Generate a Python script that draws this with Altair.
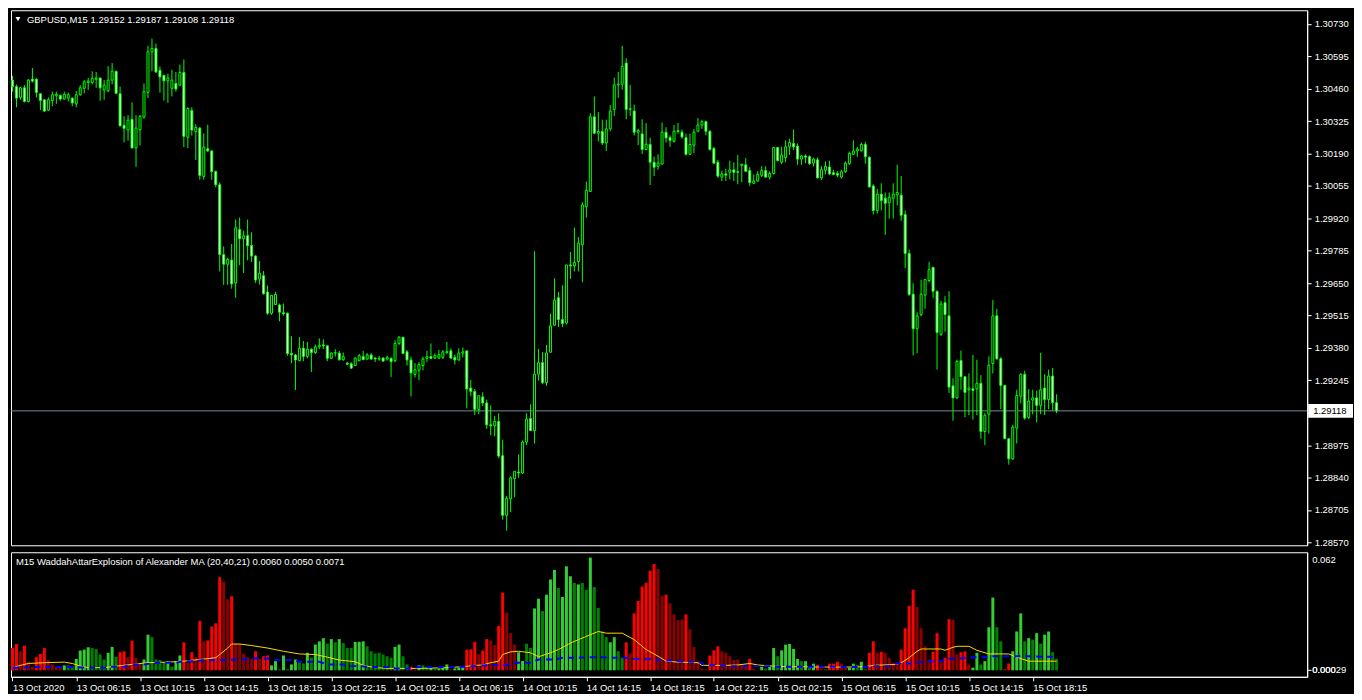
import json
import altair as alt
import pandas as pd

# ---------------- data (GBPUSD M15, 13-15 Oct 2020) ----------------
opens = [
    1.30496,1.30469,1.30424,1.30464,1.30407,1.30500,1.30500,1.30439,1.30414,1.30371,
    1.30411,1.30431,1.30432,1.30417,1.30421,1.30421,1.30397,1.30435,1.30462,1.30486,
    1.30486,1.30499,1.30505,1.30455,1.30452,1.30496,1.30533,1.30439,1.30308,1.30289,
    1.30333,1.30213,1.30289,1.30342,1.30445,1.30614,1.30628,1.30537,1.30516,1.30493,
    1.30462,1.30482,1.30475,1.30528,1.30258,1.30369,1.30282,1.30296,1.30095,1.30210,
    1.30201,1.30115,1.30060,1.29769,1.29729,1.29746,1.29651,1.29874,1.29835,1.29848,
    1.29807,1.29763,1.29667,1.29681,1.29613,1.29525,1.29561,1.29559,1.29527,1.29525,
    1.29357,1.29351,1.29327,1.29379,1.29345,1.29375,1.29361,1.29385,1.29393,1.29389,
    1.29337,1.29359,1.29359,1.29331,1.29317,1.29314,1.29307,1.29327,1.29344,1.29334,
    1.29351,1.29338,1.29334,1.29338,1.29334,1.29337,1.29327,1.29398,1.29425,1.29364,
    1.29330,1.29270,1.29287,1.29307,1.29337,1.29344,1.29338,1.29338,1.29341,1.29361,
    1.29368,1.29341,1.29330,1.29359,1.29368,1.29213,1.29199,1.29124,1.29176,1.29151,
    1.29060,1.29056,1.29074,1.28931,1.28683,1.28751,1.28836,1.28863,1.28859,1.28988,
    1.29086,1.29036,1.29271,1.29319,1.29236,1.29362,1.29475,1.29589,1.29498,1.29484,
    1.29726,1.29722,1.29740,1.29810,1.29969,1.30032,1.30343,1.30275,1.30282,1.30234,
    1.30293,1.30374,1.30476,1.30479,1.30567,1.30374,1.30367,1.30279,1.30272,1.30207,
    1.30228,1.30154,1.30137,1.30146,1.30279,1.30256,1.30241,1.30282,1.30279,1.30256,
    1.30187,1.30225,1.30283,1.30309,1.30323,1.30283,1.30211,1.30154,1.30092,1.30105,
    1.30112,1.30122,1.30114,1.30141,1.30143,1.30119,1.30066,1.30076,1.30099,1.30119,
    1.30092,1.30107,1.30215,1.30154,1.30173,1.30218,1.30232,1.30221,1.30167,1.30180,
    1.30177,1.30150,1.30164,1.30089,1.30120,1.30134,1.30110,1.30107,1.30092,1.30114,
    1.30148,1.30187,1.30201,1.30202,1.30228,1.30175,1.30055,1.29953,1.30021,1.30004,
    1.29985,1.30004,1.30018,1.30017,1.29936,1.29774,1.29604,1.29460,1.29519,1.29600,
    1.29661,1.29716,1.29616,1.29437,1.29569,1.29514,1.29222,1.29172,1.29328,1.29260,
    1.29206,1.29210,1.29210,1.29233,1.29032,1.29104,1.29315,1.29514,1.29335,1.29224,
    1.29002,1.28918,1.29046,1.29179,1.29270,1.29091,1.29163,1.29172,1.29141,1.29213,
    1.29165,1.29263,1.29152,
]
highs = [
    1.30514,1.30478,1.30469,1.30475,1.30500,1.30546,1.30503,1.30441,1.30414,1.30424,
    1.30448,1.30448,1.30437,1.30448,1.30444,1.30424,1.30451,1.30475,1.30496,1.30505,
    1.30533,1.30530,1.30505,1.30496,1.30554,1.30567,1.30533,1.30469,1.30346,1.30350,
    1.30403,1.30350,1.30350,1.30482,1.30639,1.30669,1.30648,1.30553,1.30516,1.30523,
    1.30539,1.30530,1.30560,1.30582,1.30383,1.30383,1.30312,1.30301,1.30274,1.30310,
    1.30203,1.30120,1.30070,1.29803,1.29756,1.29813,1.29915,1.29923,1.29869,1.29915,
    1.29862,1.29767,1.29742,1.29701,1.29640,1.29599,1.29613,1.29565,1.29565,1.29527,
    1.29429,1.29355,1.29425,1.29409,1.29405,1.29378,1.29395,1.29420,1.29416,1.29389,
    1.29361,1.29375,1.29368,1.29361,1.29321,1.29321,1.29341,1.29355,1.29368,1.29359,
    1.29359,1.29341,1.29348,1.29341,1.29348,1.29341,1.29412,1.29429,1.29425,1.29371,
    1.29344,1.29317,1.29321,1.29344,1.29368,1.29399,1.29357,1.29371,1.29371,1.29405,
    1.29379,1.29352,1.29379,1.29382,1.29368,1.29247,1.29209,1.29181,1.29196,1.29165,
    1.29141,1.29097,1.29108,1.28998,1.28764,1.28846,1.28866,1.28937,1.28995,1.29108,
    1.29145,1.29783,1.29376,1.29362,1.29393,1.29522,1.29670,1.29613,1.29641,1.29726,
    1.29780,1.29882,1.29842,1.29987,1.30073,1.30358,1.30428,1.30363,1.30331,1.30331,
    1.30392,1.30506,1.30530,1.30639,1.30587,1.30476,1.30394,1.30293,1.30333,1.30317,
    1.30256,1.30177,1.30187,1.30320,1.30300,1.30266,1.30309,1.30317,1.30290,1.30273,
    1.30273,1.30293,1.30338,1.30331,1.30327,1.30286,1.30218,1.30164,1.30119,1.30127,
    1.30160,1.30153,1.30184,1.30146,1.30171,1.30133,1.30103,1.30116,1.30137,1.30137,
    1.30116,1.30218,1.30218,1.30218,1.30245,1.30252,1.30290,1.30232,1.30184,1.30187,
    1.30182,1.30173,1.30173,1.30137,1.30157,1.30160,1.30123,1.30116,1.30123,1.30157,
    1.30198,1.30245,1.30218,1.30236,1.30239,1.30177,1.30062,1.30042,1.30066,1.30028,
    1.30028,1.30066,1.30143,1.30096,1.29953,1.29790,1.29650,1.29529,1.29664,1.29665,
    1.29739,1.29718,1.29620,1.29576,1.29596,1.29616,1.29254,1.29331,1.29369,1.29263,
    1.29274,1.29351,1.29331,1.29267,1.29108,1.29345,1.29580,1.29543,1.29342,1.29226,
    1.29002,1.29059,1.29206,1.29274,1.29285,1.29209,1.29206,1.29202,1.29360,1.29271,
    1.29290,1.29297,1.29187,
]
lows = [
    1.30448,1.30383,1.30414,1.30403,1.30403,1.30486,1.30424,1.30371,1.30363,1.30367,
    1.30387,1.30397,1.30410,1.30414,1.30407,1.30387,1.30383,1.30431,1.30441,1.30455,
    1.30478,1.30464,1.30410,1.30414,1.30445,1.30478,1.30437,1.30305,1.30237,1.30244,
    1.30213,1.30135,1.30224,1.30335,1.30421,1.30533,1.30526,1.30444,1.30411,1.30401,
    1.30428,1.30448,1.30471,1.30217,1.30213,1.30265,1.30163,1.30081,1.30081,1.30197,
    1.30081,1.30050,1.29699,1.29643,1.29643,1.29627,1.29589,1.29725,1.29692,1.29745,
    1.29738,1.29651,1.29644,1.29602,1.29518,1.29518,1.29559,1.29491,1.29515,1.29348,
    1.29317,1.29205,1.29325,1.29325,1.29337,1.29280,1.29355,1.29375,1.29375,1.29325,
    1.29334,1.29344,1.29327,1.29327,1.29311,1.29293,1.29307,1.29325,1.29331,1.29331,
    1.29330,1.29321,1.29327,1.29325,1.29327,1.29259,1.29321,1.29393,1.29355,1.29307,
    1.29178,1.29257,1.29246,1.29287,1.29321,1.29334,1.29334,1.29334,1.29334,1.29355,
    1.29334,1.29311,1.29327,1.29341,1.29128,1.29179,1.29101,1.29104,1.29138,1.29043,
    1.29016,1.29013,1.28921,1.28665,1.28619,1.28696,1.28758,1.28839,1.28855,1.28975,
    1.29036,1.28982,1.29244,1.29229,1.29222,1.29362,1.29471,1.29467,1.29467,1.29478,
    1.29668,1.29699,1.29699,1.29654,1.29923,1.30032,1.30270,1.30241,1.30225,1.30200,
    1.30283,1.30347,1.30422,1.30456,1.30333,1.30347,1.30265,1.30225,1.30188,1.30204,
    1.30059,1.30096,1.30123,1.30146,1.30236,1.30218,1.30236,1.30273,1.30252,1.30182,
    1.30184,1.30191,1.30279,1.30293,1.30266,1.30202,1.30146,1.30089,1.30076,1.30076,
    1.30082,1.30076,1.30062,1.30071,1.30116,1.30055,1.30062,1.30073,1.30092,1.30089,
    1.30082,1.30103,1.30157,1.30146,1.30154,1.30184,1.30205,1.30143,1.30143,1.30150,
    1.30143,1.30137,1.30086,1.30080,1.30103,1.30100,1.30100,1.30092,1.30086,1.30110,
    1.30143,1.30184,1.30177,1.30198,1.30148,1.30048,1.29936,1.29940,1.29953,1.29851,
    1.29919,1.29919,1.29974,1.29910,1.29713,1.29597,1.29349,1.29358,1.29512,1.29543,
    1.29654,1.29589,1.29290,1.29430,1.29448,1.29193,1.29077,1.29169,1.29206,1.29091,
    1.29100,1.29081,1.29100,1.29002,1.28975,1.29023,1.29274,1.29331,1.29125,1.29000,
    1.28894,1.28914,1.28982,1.29149,1.29081,1.29084,1.29104,1.29070,1.29104,1.29101,
    1.29125,1.29118,1.29108,
]
closes = [
    1.30469,1.30421,1.30464,1.30407,1.30496,1.30492,1.30445,1.30411,1.30367,1.30414,
    1.30435,1.30437,1.30417,1.30437,1.30435,1.30401,1.30435,1.30464,1.30489,1.30492,
    1.30503,1.30505,1.30464,1.30475,1.30496,1.30533,1.30441,1.30305,1.30295,1.30329,
    1.30213,1.30296,1.30345,1.30448,1.30614,1.30628,1.30530,1.30509,1.30493,1.30505,
    1.30496,1.30459,1.30528,1.30262,1.30378,1.30288,1.30299,1.30099,1.30217,1.30201,
    1.30115,1.30060,1.29770,1.29729,1.29749,1.29647,1.29881,1.29835,1.29847,1.29806,
    1.29763,1.29663,1.29691,1.29606,1.29525,1.29599,1.29603,1.29529,1.29523,1.29357,
    1.29351,1.29330,1.29379,1.29345,1.29375,1.29361,1.29385,1.29391,1.29389,1.29337,
    1.29359,1.29361,1.29331,1.29344,1.29312,1.29296,1.29338,1.29348,1.29331,1.29351,
    1.29334,1.29334,1.29337,1.29325,1.29341,1.29323,1.29399,1.29425,1.29357,1.29330,
    1.29276,1.29289,1.29311,1.29334,1.29344,1.29337,1.29348,1.29352,1.29364,1.29365,
    1.29338,1.29330,1.29359,1.29364,1.29209,1.29199,1.29124,1.29181,1.29151,1.29060,
    1.29056,1.29074,1.28930,1.28683,1.28753,1.28839,1.28866,1.28859,1.28988,1.29084,
    1.29036,1.29271,1.29319,1.29236,1.29359,1.29473,1.29579,1.29498,1.29482,1.29726,
    1.29722,1.29736,1.29817,1.29976,1.30037,1.30343,1.30275,1.30282,1.30234,1.30293,
    1.30367,1.30476,1.30479,1.30553,1.30374,1.30377,1.30279,1.30286,1.30207,1.30229,
    1.30154,1.30133,1.30150,1.30279,1.30255,1.30245,1.30283,1.30286,1.30259,1.30187,
    1.30228,1.30279,1.30309,1.30323,1.30283,1.30207,1.30150,1.30096,1.30105,1.30100,
    1.30122,1.30112,1.30112,1.30146,1.30116,1.30069,1.30076,1.30103,1.30119,1.30092,
    1.30107,1.30215,1.30161,1.30184,1.30218,1.30236,1.30218,1.30167,1.30180,1.30175,
    1.30148,1.30167,1.30089,1.30123,1.30137,1.30105,1.30103,1.30100,1.30114,1.30150,
    1.30191,1.30201,1.30209,1.30228,1.30177,1.30051,1.29953,1.30021,1.29994,1.29983,
    1.30008,1.30021,1.30028,1.29933,1.29774,1.29603,1.29460,1.29514,1.29604,1.29665,
    1.29706,1.29616,1.29444,1.29563,1.29519,1.29217,1.29172,1.29324,1.29260,1.29195,
    1.29213,1.29203,1.29233,1.29032,1.29100,1.29308,1.29514,1.29335,1.29224,1.29002,
    1.28918,1.29050,1.29182,1.29270,1.29088,1.29159,1.29172,1.29141,1.29206,1.29165,
    1.29263,1.29152,1.29118,
]

# Waddah Attar Explosion histogram value and colour kind
# (G bright green, g dark green, R red, r dark red)
hist_vals = [
    0.0117,0.0138,0.0100,0.0130,0.0045,0.0019,0.0069,0.0086,0.0117,0.0054,
    0.0031,0.0019,0.0014,0.0026,0.0026,0.0022,0.0060,0.0104,0.0109,0.0121,
    0.0117,0.0112,0.0083,0.0057,0.0092,0.0123,0.0071,0.0095,0.0100,0.0069,
    0.0155,0.0066,0.0036,0.0057,0.0187,0.0174,0.0057,0.0054,0.0040,0.0048,
    0.0019,0.0048,0.0078,0.0147,0.0040,0.0095,0.0069,0.0259,0.0152,0.0157,
    0.0230,0.0247,0.0489,0.0466,0.0373,0.0389,0.0138,0.0138,0.0088,0.0069,
    0.0060,0.0100,0.0060,0.0074,0.0078,0.0026,0.0048,0.0005,0.0078,0.0005,
    0.0031,0.0057,0.0048,0.0036,0.0092,0.0066,0.0135,0.0152,0.0169,0.0140,
    0.0164,0.0147,0.0164,0.0143,0.0117,0.0117,0.0149,0.0150,0.0152,0.0126,
    0.0100,0.0088,0.0092,0.0083,0.0074,0.0066,0.0123,0.0135,0.0074,0.0031,
    0.0019,0.0005,0.0026,0.0026,0.0019,0.0014,0.0009,0.0009,0.0019,0.0031,
    0.0005,0.0010,0.0014,0.0019,0.0109,0.0110,0.0149,0.0086,0.0104,0.0164,
    0.0157,0.0133,0.0233,0.0408,0.0302,0.0195,0.0135,0.0095,0.0049,0.0140,
    0.0118,0.0325,0.0376,0.0311,0.0397,0.0477,0.0527,0.0432,0.0385,0.0546,
    0.0494,0.0459,0.0451,0.0459,0.0423,0.0592,0.0437,0.0328,0.0204,0.0174,
    0.0147,0.0174,0.0100,0.0066,0.0147,0.0088,0.0299,0.0364,0.0440,0.0459,
    0.0523,0.0558,0.0532,0.0390,0.0397,0.0351,0.0294,0.0264,0.0268,0.0294,
    0.0216,0.0123,0.0048,0.0009,0.0005,0.0078,0.0105,0.0126,0.0100,0.0092,
    0.0074,0.0054,0.0057,0.0031,0.0019,0.0060,0.0009,0.0002,0.0019,0.0009,
    0.0019,0.0117,0.0074,0.0105,0.0135,0.0138,0.0112,0.0060,0.0048,0.0048,
    0.0014,0.0035,0.0028,0.0009,0.0005,0.0035,0.0035,0.0045,0.0035,0.0014,
    0.0014,0.0035,0.0028,0.0045,0.0005,0.0092,0.0152,0.0092,0.0097,0.0092,
    0.0066,0.0040,0.0040,0.0109,0.0221,0.0338,0.0423,0.0333,0.0221,0.0126,
    0.0057,0.0097,0.0195,0.0043,0.0066,0.0268,0.0266,0.0083,0.0095,0.0100,
    0.0031,0.0014,0.0092,0.0031,0.0048,0.0226,0.0382,0.0226,0.0152,0.0005,
    0.0036,0.0100,0.0204,0.0299,0.0152,0.0169,0.0161,0.0195,0.0140,0.0187,
    0.0204,0.0095,0.0060,
]
hist_kind = list(
    "RRrRrrRRRr" "rrrGggGGGG" "ggggGGgRRr" "RrrGGggggG" "gGGRrRrRrR"
    "RRRrrRrrrr" "rRrRRGGgGg" "GGggGgGGGg" "GgGgggGGGg" "ggggggGGgg"
    "RrGggGgGGG" "rGGGRRRrRR" "rrRRrrrGGg" "gGGgGGGgGG" "GgGggGgggg"
    "GGggRrRRRR" "RRrrRrrrrR" "rrrrrRRRrr" "rrrrrRrrGg" "GGgGGGGGgG"
    "gGRrgRRRrr" "GGgGgRRrRr" "rrrRRRRrrr" "rRRrRRrrRR" "rGGgGGGggR"
    "RGGGgGgGgG" "Ggg"
)

# explosion line (yellow) and dead-zone line (blue): (bar index, value) read at turning points
yellow_i = [0,2,4,8,13,15,17,19,23,26,30,34,39,43,47,51,52,54,55,57,60,64,68,72,76,79,82,86,88,91,95,98,
            102,109,113,116,118,120,122,123,125,127,130,132,135,137,140,142,145,147,149,153,156,159,162,164,
            167,172,173,179,182,185,187,191,195,198,202,209,214,216,222,223,225,227,228,233,234,236,237,240,
            242,245,250,252,255,262]
yellow_v = [0.0014,0.0026,0.0036,0.0040,0.0043,0.0036,0.0022,0.0014,0.0014,0.0022,0.0031,0.0040,0.0043,
            0.0048,0.0057,0.0066,0.0083,0.0117,0.0138,0.0138,0.0130,0.0117,0.0100,0.0086,0.0083,0.0069,
            0.0054,0.0045,0.0026,0.0014,0.0010,0.0010,0.0010,0.0014,0.0019,0.0026,0.0028,0.0040,0.0048,
            0.0083,0.0097,0.0100,0.0092,0.0071,0.0092,0.0109,0.0143,0.0161,0.0187,0.0204,0.0195,0.0195,
            0.0161,0.0109,0.0074,0.0048,0.0043,0.0040,0.0026,0.0026,0.0028,0.0036,0.0028,0.0022,0.0019,
            0.0019,0.0017,0.0017,0.0019,0.0026,0.0031,0.0040,0.0066,0.0100,0.0112,0.0112,0.0105,0.0121,
            0.0126,0.0126,0.0105,0.0086,0.0086,0.0069,0.0048,0.0048]
blue_i = [0,6,16,19,23,25,28,30,33,36,41,43,46,48,53,56,59,60,64,66,70,72,77,79,83,84,87,90,95,96,99,
          102,112,120,124,126,130,132,136,138,142,144,148,150,154,156,160,163,166,168,172,174,178,180,190,
          192,196,200,215,216,220,222,226,229,233,234,238,240,244,246,256,258,262]
blue_v = [0.0014,0.0017,0.0017,0.0014,0.0014,0.0019,0.0019,0.0031,0.0031,0.0040,0.0040,0.0048,0.0048,
          0.0054,0.0054,0.0057,0.0057,0.0062,0.0062,0.0054,0.0054,0.0045,0.0045,0.0031,0.0031,0.0022,
          0.0022,0.0017,0.0017,0.0010,0.0010,0.0017,0.0017,0.0028,0.0028,0.0040,0.0040,0.0057,0.0057,
          0.0066,0.0066,0.0069,0.0069,0.0066,0.0066,0.0059,0.0059,0.0052,0.0052,0.0045,0.0045,0.0026,
          0.0026,0.0022,0.0022,0.0019,0.0019,0.0019,0.0017,0.0022,0.0022,0.0036,0.0036,0.0048,0.0048,
          0.0062,0.0062,0.0069,0.0069,0.0074,0.0074,0.0071,0.0071]

price_ticks = [1.28570,1.28705,1.28840,1.28975,1.29110,1.29245,1.29380,1.29515,1.29650,
               1.29785,1.29920,1.30055,1.30190,1.30325,1.30460,1.30595,1.30730]
time_tick_bars = [0,16,32,48,64,80,96,112,128,144,160,176,192,208,224,240,256]
time_labels = ["13 Oct 2020","13 Oct 06:15","13 Oct 10:15","13 Oct 14:15","13 Oct 18:15",
               "13 Oct 22:15","14 Oct 02:15","14 Oct 06:15","14 Oct 10:15","14 Oct 14:15",
               "14 Oct 18:15","14 Oct 22:15","15 Oct 02:15","15 Oct 06:15","15 Oct 10:15",
               "15 Oct 14:15","15 Oct 18:15"]
header = "GBPUSD,M15  1.29152 1.29187 1.29108 1.29118"
ind_title = "M15  WaddahAttarExplosion of Alexander MA (20,40,21) 0.0060 0.0050 0.0071"
last_price = 1.29118

n = len(closes)
assert len(opens) == len(highs) == len(lows) == n == 263, (len(opens), len(highs), len(lows), n)
assert len(hist_vals) == n and len(hist_kind) == n, (len(hist_vals), len(hist_kind))
assert len(yellow_i) == len(yellow_v) and len(blue_i) == len(blue_v)

# ---------------- layout ----------------
W = 1301
H_TOP = 537
H_BOT = 125
FONT = "Liberation Sans"
FS = 9.5
x_scale = alt.Scale(domain=[-0.375, -0.375 + W / 4], nice=False, zero=False)
y_top = alt.Scale(domain=[1.28558, 1.30787], nice=False, zero=False)
y_bot = alt.Scale(domain=[-0.0034, 0.062], nice=False, zero=False)

price_axis = alt.Axis(orient="right", values=price_ticks, format=".5f", labelOverlap=False,
                      tickSize=4, labelPadding=3, grid=False, title=None, labelFlush=False)
label_expr = json.dumps(time_labels) + "[round(datum.value / 16)]"
time_axis = alt.Axis(values=time_tick_bars, labelExpr=label_expr, labelAlign="left",
                     tickSize=4, labelPadding=2, labelFlush=False, labelOverlap=False,
                     grid=False, title=None)
ind_axis = alt.Axis(orient="right", values=[0.00029], labels=False, tickSize=4,
                    grid=False, title=None)
no_x = alt.Axis(labels=False, ticks=False, domain=False, grid=False, title=None)


def label_text(t, x, y, color="#FFFFFF"):
    return alt.Chart(pd.DataFrame({"t": [t]})).mark_text(
        align="left", baseline="middle", color=color, font=FONT, fontSize=FS
    ).encode(x=alt.value(x), y=alt.value(y), text="t:N")


candles = pd.DataFrame({"i": range(n), "o": opens, "h": highs, "l": lows, "c": closes})

price_line = alt.Chart(pd.DataFrame({"p": [last_price]})).mark_rule(
    color="#778899", strokeWidth=1
).encode(y=alt.Y("p:Q", scale=y_top, axis=price_axis))

wicks = alt.Chart(candles).mark_rule(color="#00FF00", strokeWidth=1).encode(
    x=alt.X("i:Q", scale=x_scale, axis=no_x),
    y=alt.Y("l:Q", scale=y_top, axis=price_axis),
    y2="h:Q",
)

bodies = alt.Chart(candles).transform_calculate(
    x1="datum.i - 0.25", x2="datum.i + 0.25"
).mark_rect(stroke="#00FF00", strokeWidth=1).encode(
    x=alt.X("x1:Q", scale=x_scale, axis=no_x),
    x2="x2:Q",
    y=alt.Y("o:Q", scale=y_top, axis=price_axis),
    y2="c:Q",
    fill=alt.condition("datum.c < datum.o", alt.value("#FFFFFF"), alt.value("#000000")),
)

lbl = pd.DataFrame({"p": [last_price], "t": [f"{last_price:.5f}"]})
price_box = alt.Chart(lbl).mark_rect(color="#FFFFFF", yOffset=-7, y2Offset=7).encode(
    x=alt.value(W + 1), x2=alt.value(W + 46),
    y=alt.Y("p:Q", scale=y_top, axis=price_axis), y2="p:Q",
)
price_txt = alt.Chart(lbl).mark_text(
    align="left", baseline="middle", color="#000000", font=FONT, fontSize=FS
).encode(x=alt.value(W + 6), y=alt.Y("p:Q", scale=y_top, axis=price_axis), text="t:N")

head = label_text(header, 16, 10)
tri = alt.Chart(pd.DataFrame({"t": [0]})).mark_point(
    shape="triangle-down", filled=True, color="#FFFFFF", size=24, opacity=1
).encode(x=alt.value(7), y=alt.value(9))

top = alt.layer(price_line, wicks, bodies, price_box, price_txt, head, tri).properties(
    width=W, height=H_TOP
)

hist = pd.DataFrame({"i": range(n), "v": hist_vals, "k": hist_kind})
bars = alt.Chart(hist).transform_calculate(
    x1="datum.i - 0.375", x2="datum.i + 0.375"
).mark_rect().encode(
    x=alt.X("x1:Q", scale=x_scale, axis=time_axis),
    x2="x2:Q",
    y=alt.Y("v:Q", scale=y_bot, axis=ind_axis),
    y2=alt.datum(0),
    color=alt.Color("k:N", scale=alt.Scale(domain=["G", "g", "R", "r"],
                                           range=["#32CD32", "#008000", "#FF0000", "#8B0000"]),
                    legend=None),
)
yellow = alt.Chart(pd.DataFrame({"i": yellow_i, "v": yellow_v})).mark_line(
    color="#FFD700", strokeWidth=1
).encode(x=alt.X("i:Q", scale=x_scale, axis=time_axis),
         y=alt.Y("v:Q", scale=y_bot, axis=ind_axis))
blue = alt.Chart(pd.DataFrame({"i": blue_i, "v": blue_v})).mark_line(
    color="#0000FF", strokeWidth=2, strokeDash=[6, 5]
).encode(x=alt.X("i:Q", scale=x_scale, axis=time_axis),
         y=alt.Y("v:Q", scale=y_bot, axis=ind_axis))

bottom = alt.layer(
    bars, yellow, blue,
    label_text(ind_title, 5, 10),
    label_text("0.062", W + 5, 8),
    label_text("0.00029", W + 5, 118),
    label_text("0.000", W + 5, 118),
).properties(width=W, height=H_BOT)

chart = alt.vconcat(top, bottom, spacing=3).properties(
    padding={"left": 0, "top": 0, "right": 0, "bottom": 0}
).configure(background="#000000").configure_view(
    stroke="#FFFFFF", strokeWidth=1
).configure_axis(
    domainColor="#FFFFFF", tickColor="#FFFFFF", labelColor="#FFFFFF",
    labelFont=FONT, labelFontSize=FS, grid=False,
)

chart.save("out.html", embed_options={"renderer": "svg", "actions": False})
